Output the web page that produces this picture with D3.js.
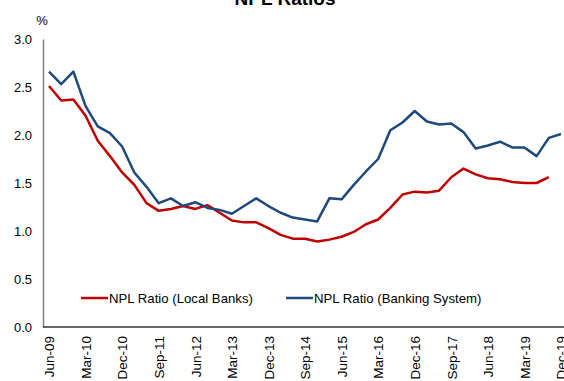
<!DOCTYPE html>
<html>
<head>
<meta charset="utf-8">
<script src="https://cdn.jsdelivr.net/npm/d3@7"></script>
<style>
  body { margin: 0; background: #fff; }
  svg { display: block; font-family: "Liberation Sans", Arial, sans-serif; }
</style>
</head>
<body>
<svg id="chart"></svg>
<script>
// quarters, Jun-09 .. Dec-19
var quarters = ["Jun-09","Sep-09","Dec-09","Mar-10","Jun-10","Sep-10","Dec-10","Mar-11","Jun-11","Sep-11",
  "Dec-11","Mar-12","Jun-12","Sep-12","Dec-12","Mar-13","Jun-13","Sep-13","Dec-13","Mar-14",
  "Jun-14","Sep-14","Dec-14","Mar-15","Jun-15","Sep-15","Dec-15","Mar-16","Jun-16","Sep-16",
  "Dec-16","Mar-17","Jun-17","Sep-17","Dec-17","Mar-18","Jun-18","Sep-18","Dec-18","Mar-19",
  "Jun-19","Sep-19","Dec-19"];

var tickLabels = ["Jun-09","Mar-10","Dec-10","Sep-11","Jun-12","Mar-13","Dec-13","Sep-14",
  "Jun-15","Mar-16","Dec-16","Sep-17","Jun-18","Mar-19","Dec-19"];

var yTicks = [0, 0.5, 1.0, 1.5, 2.0, 2.5, 3.0];

// NPL Ratio (Local Banks) - no value for Dec-19
var localBanks = [2.51,2.36,2.37,2.20,1.94,1.78,1.61,1.48,1.29,1.21,
  1.23,1.26,1.23,1.27,1.19,1.11,1.09,1.09,1.03,0.96,
  0.92,0.92,0.89,0.91,0.94,0.99,1.07,1.12,1.24,1.38,
  1.41,1.40,1.42,1.56,1.65,1.59,1.55,1.54,1.51,1.50,
  1.50,1.56,null];

// NPL Ratio (Banking System)
var bankingSystem = [2.66,2.53,2.66,2.30,2.09,2.02,1.88,1.61,1.46,1.29,
  1.34,1.26,1.30,1.24,1.22,1.18,1.26,1.34,1.26,1.19,
  1.14,1.12,1.10,1.34,1.33,1.48,1.62,1.75,2.05,2.13,
  2.25,2.14,2.11,2.12,2.03,1.86,1.89,1.93,1.87,1.87,
  1.78,1.97,2.01];

var seriesNames = ["NPL Ratio (Local Banks)", "NPL Ratio (Banking System)"];
var seriesColors = ["#C00000", "#1F497D"];

var width = 564, height = 381;
var margin = {top: 39, left: 43, bottom: 327};

var svg = d3.select("#chart").attr("width", width).attr("height", height);

var x = d3.scalePoint().domain(quarters).range([49, 561]);
var y = d3.scaleLinear().domain([0, 3]).range([margin.bottom, margin.top]);

// title (mostly cut off at the top)
svg.append("text")
  .attr("x", 285).attr("y", 5)
  .attr("text-anchor", "middle")
  .style("font-size", "19px").style("font-weight", "bold")
  .text("NPL Ratios");

// y axis
var yAxis = d3.axisLeft(y).tickValues(yTicks).tickFormat(d3.format(".1f")).tickSize(0).tickPadding(11);
var gy = svg.append("g").attr("transform", "translate(" + margin.left + ",0)").call(yAxis);
gy.select(".domain").attr("stroke", "#808080").attr("stroke-width", 1.5);
gy.selectAll("text").style("font-size", "13px").attr("fill", "#000");

svg.append("text")
  .attr("x", 42).attr("y", 25)
  .attr("text-anchor", "middle")
  .style("font-size", "13px")
  .text("%");

// x axis
var xAxis = d3.axisBottom(x).tickValues(tickLabels).tickSize(0).tickPadding(0);
var gx = svg.append("g").attr("transform", "translate(0," + margin.bottom + ")").call(xAxis);
gx.select(".domain").attr("d", "M" + margin.left + ",0H" + width).attr("stroke", "#333").attr("stroke-width", 1.5);
gx.selectAll("text")
  .style("font-size", "13.5px").attr("fill", "#000")
  .attr("text-anchor", "end")
  .attr("dy", "0.35em")
  .attr("transform", "translate(0,9) rotate(-90)")
  .attr("x", 0).attr("y", 0);

// lines
var line = d3.line()
  .defined(function(d){ return d.v != null; })
  .x(function(d){ return x(d.q); })
  .y(function(d){ return y(d.v); });

[localBanks, bankingSystem].forEach(function(vals, k){
  var pts = vals.map(function(v, i){ return {q: quarters[i], v: v}; });
  svg.append("path")
    .datum(pts)
    .attr("fill", "none")
    .attr("stroke", seriesColors[k])
    .attr("stroke-width", 2.5)
    .attr("stroke-linejoin", "round")
    .attr("d", line);
});

// legend
var legendX = [81, 286];
var lg = svg.append("g");
seriesNames.forEach(function(name, k){
  lg.append("line")
    .attr("x1", legendX[k]).attr("x2", legendX[k] + 27)
    .attr("y1", 298).attr("y2", 298)
    .attr("stroke", seriesColors[k]).attr("stroke-width", 2.5);
  lg.append("text")
    .attr("x", legendX[k] + 28).attr("y", 298)
    .attr("dy", "0.35em")
    .style("font-size", "13.2px")
    .text(name);
});
</script>
</body>
</html>
